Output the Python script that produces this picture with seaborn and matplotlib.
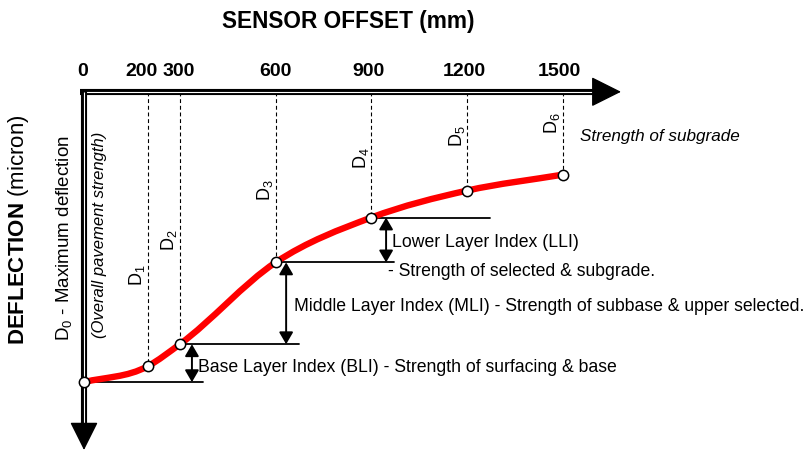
"""Deflection bowl diagram: FWD sensor offsets vs deflection with layer indices."""
import matplotlib
matplotlib.use("Agg")
import matplotlib.pyplot as plt
from matplotlib.path import Path
from matplotlib.patches import PathPatch
import numpy as np
import pandas as pd
import seaborn as sns

# --- data ---
sensor_offset = [0, 200, 300, 600, 900, 1200, 1500]        # mm
deflection = [291, 275, 253, 171, 126, 99, 83]             # micron
sensor_names = ["D$_0$", "D$_1$", "D$_2$", "D$_3$", "D$_4$", "D$_5$", "D$_6$"]
tick_labels = ["0", "200", "300", "600", "900", "1200", "1500"]

# layer indices: (upper sensor, lower sensor)
index_pairs = [(0, 2), (2, 3), (3, 4)]

# --- layout (data units: mm across, micron down) ---
PX = 479 / 1500          # pixels per mm on the x axis
tick_nudge = [-3, -20, -5, -2, -10, -10, -10]  # small shifts of tick labels (mm)
label_y = [None, 183, 148, 98, 65, 43, 30]     # centre of the rotated D labels
ext = 372                # length of the horizontal reference lines (mm)
arrow_dx = [38, 33, 46]  # offset of the double arrows from the sensor (mm)

sns.set_theme(style="white")
plt.rcParams["font.family"] = ["Liberation Sans", "DejaVu Sans"]
plt.rcParams["text.color"] = "black"
plt.rcParams["mathtext.fontset"] = "custom"
plt.rcParams["mathtext.rm"] = "Liberation Sans"
plt.rcParams["mathtext.it"] = "Liberation Sans:italic"
plt.rcParams["mathtext.bf"] = "Liberation Sans:bold"

fig = plt.figure(figsize=(8.07, 4.52), dpi=100)
ax = fig.add_axes([0, 0, 1, 1])
ax.set_xlim(-84 / PX, (807 - 84) / PX)
ax.set_ylim(360, -93)
ax.axis("off")

df = pd.DataFrame({"offset": sensor_offset, "deflection": deflection})

# --- axes drawn as double lines with arrow heads ---
x_end = (600 - 84) / PX
x_tip = (621 - 84) / PX
ax.plot([-4 / PX, x_end], [0, 0], color="black", lw=4.4, solid_capstyle="butt", zorder=3)
ax.plot([0, x_end], [0, 0], color="white", lw=0.8, solid_capstyle="butt", zorder=3)
ax.plot([0, 0], [-3, 340], color="black", lw=4.4, solid_capstyle="butt", zorder=3)
ax.plot([0, 0], [0, 340], color="white", lw=0.8, solid_capstyle="butt", zorder=3)
ax.annotate("", xy=(x_tip, 0), xytext=(x_end - 5, 0),
            arrowprops=dict(arrowstyle="-|>,head_length=1.6,head_width=0.8",
                            color="black", lw=1, shrinkA=0, shrinkB=0), zorder=3)
ax.annotate("", xy=(0, 359), xytext=(0, 336),
            arrowprops=dict(arrowstyle="-|>,head_length=1.5,head_width=0.75",
                            color="black", lw=1, shrinkA=0, shrinkB=0), zorder=3)

# --- tick labels and titles ---
for x, dx, lab in zip(sensor_offset, tick_nudge, tick_labels):
    ax.text(x + dx, -21, lab, ha="center", va="center", fontsize=14, fontweight="bold")
ax.text(827, -71, "SENSOR OFFSET (mm)", ha="center", va="center",
        fontsize=16.3, fontweight="bold")
ax.text(-206, 137, r"$\bf{DEFLECTION}$ (micron)", rotation=90,
        ha="center", va="center", fontsize=16)
ax.text(-63, 146, r"D$_0$ - Maximum deflection", rotation=90,
        ha="center", va="center", fontsize=13.5)
ax.text(47, 142, "(Overall pavement strength)", rotation=90, style="italic",
        ha="center", va="center", fontsize=12)

# --- dashed sensor lines and labels ---
ax.vlines(sensor_offset[1:], 0, deflection[1:], colors="black",
          linestyles=(0, (3.5, 2.5)), lw=0.8, zorder=2)
for x, name, ly in zip(sensor_offset[1:], sensor_names[1:], label_y[1:]):
    ax.text(x - 2, ly, name, rotation=90, ha="right", va="center", fontsize=13)

# --- smooth deflection bowl (cubic Hermite through the sensors, as Bezier) ---
xs = np.asarray(sensor_offset, dtype=float)
ys = np.asarray(deflection, dtype=float)
slope = np.gradient(ys, xs)
verts = [(xs[0], ys[0])]
codes = [Path.MOVETO]
for i in range(len(xs) - 1):
    h = (xs[i + 1] - xs[i]) / 3
    verts += [(xs[i] + h, ys[i] + slope[i] * h),
              (xs[i + 1] - h, ys[i + 1] - slope[i + 1] * h),
              (xs[i + 1], ys[i + 1])]
    codes += [Path.CURVE4] * 3
ax.add_patch(PathPatch(Path(verts, codes), facecolor="none", edgecolor="#ff0000",
                       lw=4.6, capstyle="butt", zorder=4))

sns.scatterplot(data=df, x="offset", y="deflection", ax=ax, s=55,
                color="white", edgecolor="black", linewidth=1.1, zorder=5, legend=False)
ax.set_xlabel("")
ax.set_ylabel("")

# --- layer index reference lines and double arrows ---
for (a, b), dx in zip(index_pairs, arrow_dx):
    xb = sensor_offset[b]
    ax.plot([xb, xb + ext], [deflection[b], deflection[b]], color="black", lw=1.3, zorder=3)
    ax.annotate("", xy=(xb + dx, deflection[a]), xytext=(xb + dx, deflection[b]),
                arrowprops=dict(arrowstyle="<|-|>,head_length=0.6,head_width=0.35",
                                color="black", lw=1.4, shrinkA=0, shrinkB=0))
ax.plot([0, ext], [deflection[0], deflection[0]], color="black", lw=1.3, zorder=3)

fs = 12.7
ax.text(357, 275, "Base Layer Index (BLI) - Strength of surfacing & base",
        ha="left", va="center", fontsize=fs)
ax.text(658, 214, "Middle Layer Index (MLI) - Strength of subbase & upper selected.",
        ha="left", va="center", fontsize=fs)
ax.text(965, 150, "Lower Layer Index (LLI)", ha="left", va="center", fontsize=fs)
ax.text(952, 179, "- Strength of selected & subgrade.", ha="left", va="center", fontsize=fs)
ax.text(1553, 44, "Strength of subgrade", ha="left", va="center",
        fontsize=12.3, style="italic")

fig.savefig("out.png", dpi=100)
plt.close(fig)
